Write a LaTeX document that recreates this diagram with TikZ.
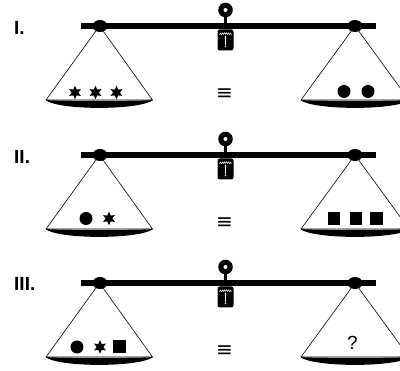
\documentclass[tikz,border=0pt]{standalone}
\usepackage{fontspec}
\setmainfont{Liberation Sans}
\newfontfamily\symfont{DejaVu Sans}
\usetikzlibrary{shapes.geometric}
\tikzset{
  beam/.style={line width=6pt},
  conel/.style={line width=0.6pt, line join=round},
  starsym/.style={star, star points=6, star point ratio=2.0, fill=black, draw=none, minimum size=13.5pt, inner sep=0pt},
  dotsym/.style={circle, fill=black, draw=none, minimum size=13pt, inner sep=0pt},
  sqsym/.style={rectangle, fill=black, draw=none, minimum size=12.5pt, inner sep=0pt},
  lbl/.style={font=\fontsize{19}{22}\selectfont\bfseries, anchor=west, inner sep=0pt},
  eqv/.style={font=\symfont\fontsize{20}{22}\selectfont, inner sep=0pt},
  qm/.style={font=\fontsize{19}{22}\selectfont, inner sep=0pt},
}
\begin{document}
\begin{tikzpicture}[x=1pt,y=-1pt]
\useasboundingbox (0,0) rectangle (400,371);
\clip (0,0) rectangle (400,371);
\foreach \b/\n in {26/1,155/2,283/3}{
  \pgfmathsetmacro{\base}{\b+74}
  % cones
  \draw[conel] (46,\base) -- (99.5,\b) -- (152.5,\base) -- cycle;
  \draw[conel] (301,\base) -- (355,\b) -- (409,\base) -- cycle;
  % dishes
  \fill (45.5,\base) .. controls (58,\base+10.5) and (140,\base+10.5) .. (153,\base)
        .. controls (140,\base+1.2) and (58,\base+1.2) .. cycle;
  \fill (300.5,\base) .. controls (313,\base+10.5) and (397,\base+10.5) .. (409.5,\base)
        .. controls (397,\base+1.2) and (313,\base+1.2) .. cycle;
  % beam
  \draw[beam] (81,\b) -- (376,\b);
  % pivots
  \fill (100,\b) ellipse (7.5pt and 6pt);
  \fill (355,\b) ellipse (7.5pt and 6pt);
  % hook
  \draw[line width=3pt] (225.5,\b-16) -- (225.5,\b);
  \fill (225.5,\b-16) circle (7.3pt);
  \fill[white] (225.5,\b-16) circle (2pt);
  \fill[rounded corners=2.2pt] (217.5,\b+3.5) rectangle (233.5,\b+24.5);
  \draw[white, line width=0.5pt]
    (219.5,\b+9) -- (220.5,\b+7.2) -- (221.5,\b+8.6) -- (222.5,\b+6.9) -- (223.5,\b+8.4)
    -- (224.5,\b+6.8) -- (225.5,\b+8.3) -- (226.5,\b+6.8) -- (227.5,\b+8.4) -- (228.5,\b+6.9)
    -- (229.5,\b+8.6) -- (230.5,\b+7.2) -- (231.5,\b+9);
  \fill[white] (224.9,\b+10) -- (226.1,\b+10) -- (225.8,\b+19.5) -- (225.2,\b+19.5) -- cycle;
  \fill[white] (225.5,\b+20.6) circle (0.8pt);
  % equivalence sign
  \node[eqv] (eq\n) at (224.5,\base-6) {≡};
}
% labels
\node[lbl] (lab1) at (14,28) {I.};
\node[lbl] (lab2) at (14,157) {II.};
\node[lbl] (lab3) at (14,284) {III.};
% scale I contents
\node[starsym] (s11) at (75,92.5) {};
\node[starsym] (s12) at (95.5,92.5) {};
\node[starsym] (s13) at (116.5,92.5) {};
\node[dotsym] (c11) at (344,91.5) {};
\node[dotsym] (c12) at (368,91.5) {};
% scale II contents
\node[dotsym] (c21) at (86,218.5) {};
\node[starsym] (s21) at (109,218.5) {};
\node[sqsym] (q21) at (334,218.5) {};
\node[sqsym] (q22) at (356,218.5) {};
\node[sqsym] (q23) at (376.5,218.5) {};
% scale III contents
\node[dotsym] (c31) at (77,347) {};
\node[starsym] (s31) at (100,347) {};
\node[sqsym] (q31) at (119.5,346.5) {};
\node[qm] (qm3) at (352.5,343) {?};
\end{tikzpicture}
\end{document}
